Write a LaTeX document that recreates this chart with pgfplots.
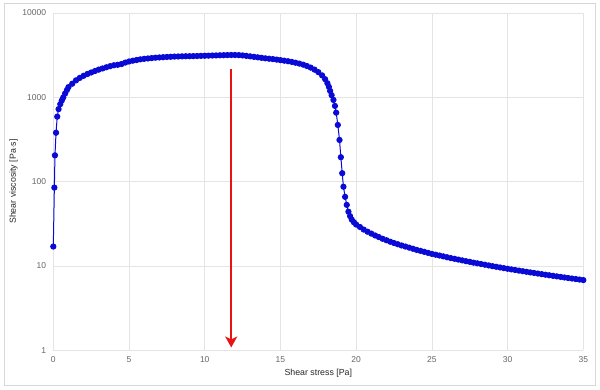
\documentclass[border=0pt]{standalone}
\usepackage{pgfplots}
\pgfplotsset{compat=1.18}
\usepackage{pgfplotstable}
\usepackage{fontspec}
\setmainfont{Liberation Sans}
\usetikzlibrary{arrows.meta}
\definecolor{curveblue}{RGB}{10,10,215}
\definecolor{arrowred}{RGB}{232,20,20}
\definecolor{ticktxt}{RGB}{102,102,102}
\definecolor{labeltxt}{RGB}{40,40,40}
\definecolor{gridc}{RGB}{228,228,228}
\definecolor{framec}{RGB}{215,215,215}

\pgfplotstableread{
x y
0 17
0.07 85
0.11 205
0.18 380
0.26 590
0.35 725
0.46 830
0.56 915
0.66 1000
0.78 1110
0.9 1220
1.0 1320
1.25 1450
1.5 1590
1.75 1700
2.0 1800
2.25 1890
2.5 1970
2.75 2050
3.0 2130
3.25 2200
3.5 2270
3.75 2340
4.0 2400
4.25 2430
4.5 2480
4.75 2580
5.0 2660
5.25 2720
5.5 2770
5.75 2820
6.0 2860
6.25 2890
6.5 2920
6.75 2950
7.0 2970
7.25 2990
7.5 3010
7.75 3025
8.0 3040
8.25 3050
8.5 3060
8.75 3070
9.0 3075
9.25 3080
9.5 3090
9.75 3100
10.0 3110
10.25 3120
10.5 3130
10.75 3140
11.0 3150
11.25 3160
11.5 3170
11.75 3175
12.0 3175
12.25 3165
12.5 3140
12.75 3100
13.0 3060
13.25 3020
13.5 2980
13.75 2940
14.0 2900
14.25 2870
14.5 2840
14.75 2800
15.0 2760
15.25 2720
15.5 2680
15.75 2630
16.0 2570
16.25 2510
16.5 2440
16.75 2350
17.0 2250
17.25 2130
17.5 1990
17.75 1820
17.95 1640
18.1 1470
18.2 1330
18.28 1190
18.38 1060
18.5 931
18.6 790
18.68 658
18.79 470
18.9 312
18.99 195
19.08 126
19.16 87
19.27 66
19.38 53
19.49 44
19.6 39
19.71 35.5
19.85 33
20.0 31
20.25 29
20.5 27
20.75 25.5
21.0 24.2
21.25 23.0
21.5 22.0
21.75 21.0
22.0 20.2
22.25 19.4
22.5 18.7
22.75 18.1
23.0 17.5
23.25 17.0
23.5 16.5
23.75 16.0
24.0 15.5
24.25 15.1
24.5 14.7
24.75 14.3
25.0 13.9
25.25 13.6
25.5 13.3
25.75 13.0
26.0 12.7
26.25 12.4
26.5 12.15
26.75 11.9
27.0 11.65
27.25 11.4
27.5 11.2
27.75 10.95
28.0 10.75
28.25 10.55
28.5 10.35
28.75 10.15
29.0 9.95
29.25 9.78
29.5 9.6
29.75 9.43
30.0 9.27
30.25 9.11
30.5 8.96
30.75 8.81
31.0 8.67
31.25 8.53
31.5 8.39
31.75 8.26
32.0 8.13
32.25 8.0
32.5 7.88
32.75 7.76
33.0 7.64
33.25 7.53
33.5 7.42
33.75 7.31
34.0 7.2
34.25 7.1
34.5 7.0
34.75 6.9
35.0 6.8
}\viscdata

\pgfplotstableread{
x y
11.75 2170
11.75 1.08
}\arrowdata

\begin{document}
\begin{tikzpicture}
\path[use as bounding box] (-53.3pt,-38.7pt) rectangle (546.7pt,350.3pt);
\fill[white] (-53.3pt,-38.7pt) rectangle (546.7pt,350.3pt);
\draw[framec, line width=1pt] (-48.3pt,-34.7pt) rectangle (541.7pt,346.3pt);
\begin{axis}[
  scale only axis,
  width=530pt, height=337.3pt,
  at={(0pt,0pt)}, anchor=south west,
  xmin=0, xmax=35,
  ymode=log, ymin=1, ymax=10000,
  xtick={0,5,...,35},
  ytick={1,10,100,1000,10000},
  yticklabels={1,10,100,1000,10000},
  minor y tick num=0,
  grid=major,
  major grid style={draw=gridc, line width=0.7pt},
  axis x line*=bottom, axis y line*=left,
  axis line style={draw=gridc, line width=0.8pt},
  tick style={draw=none},
  /pgf/number format/assume math mode=true,
  tick label style={font=\fontsize{8.5}{10}\selectfont, text=ticktxt, inner sep=0pt},
  xticklabel style={anchor=north, yshift=-6.5pt},
  yticklabel style={anchor=east, xshift=-7pt},
  xlabel={Shear stress [Pa]},
  ylabel={Shear viscosity [Pa$\cdot$s]},
  every axis x label/.style={at={(axis description cs:0.5,-0.0673)}, anchor=center, font=\fontsize{8.8}{10}\selectfont, text=labeltxt},
  every axis y label/.style={at={(axis description cs:-0.0751,0.5)}, rotate=90, anchor=center, font=\fontsize{8.8}{10}\selectfont, text=labeltxt},
  clip=false,
]
\addplot[curveblue, line width=1pt, mark=*, mark size=2.6pt, mark options={fill=curveblue, draw=curveblue}] table[x=x, y=y] {\viscdata};
\addplot[arrowred, line width=2pt, -{Stealth[length=11pt, width=12pt, inset=3pt]}] table[x=x, y=y] {\arrowdata};
\end{axis}
\end{tikzpicture}
\end{document}
